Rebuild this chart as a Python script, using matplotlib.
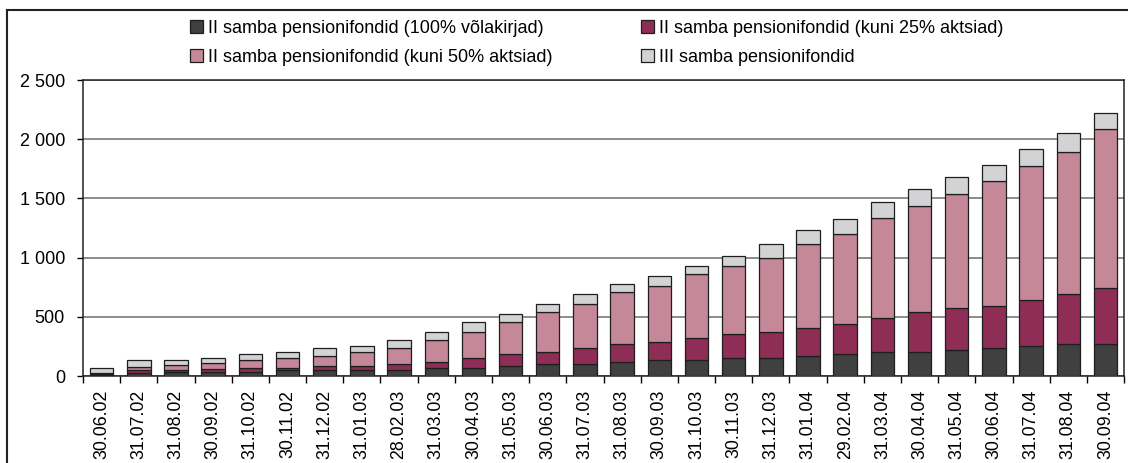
import matplotlib.pyplot as plt
from matplotlib.lines import Line2D
from matplotlib.ticker import FuncFormatter
import numpy as np

plt.rcParams['font.family'] = ['Liberation Sans', 'DejaVu Sans']

dates = ["30.06.02", "31.07.02", "31.08.02", "30.09.02", "31.10.02", "30.11.02",
         "31.12.02", "31.01.03", "28.02.03", "31.03.03", "30.04.03", "31.05.03",
         "30.06.03", "31.07.03", "31.08.03", "30.09.03", "31.10.03", "30.11.03",
         "31.12.03", "31.01.04", "29.02.04", "31.03.04", "30.04.04", "31.05.04",
         "30.06.04", "31.07.04", "31.08.04", "30.09.04"]

# million EEK
volakirjad = [8, 29, 31, 31, 31, 48, 48, 48, 48, 68, 68, 85, 102, 100, 116, 136,
              136, 153, 153, 167, 185, 201, 201, 220, 234, 251, 268, 268]
aktsiad25 = [9, 19, 16, 32, 34, 20, 37, 37, 54, 51, 85, 99, 99, 135, 152, 152,
             183, 200, 220, 237, 253, 288, 341, 353, 356, 393, 427, 478]
aktsiad50 = [11, 32, 49, 50, 68, 82, 82, 116, 132, 183, 217, 271, 336, 372, 441, 472,
             543, 576, 624, 712, 763, 848, 896, 967, 1054, 1133, 1201, 1336]
iii_sammas = [36, 51, 36, 38, 51, 51, 70, 50, 71, 68, 88, 68, 70, 88, 71, 87,
              70, 88, 122, 121, 122, 136, 138, 138, 136, 138, 155, 138]

labels = ["II samba pensionifondid (100% võlakirjad)",
          "II samba pensionifondid (kuni 25% aktsiad)",
          "II samba pensionifondid (kuni 50% aktsiad)",
          "III samba pensionifondid"]
colors = ["#404040", "#8e2d55", "#c48898", "#d3d3d5"]

fig = plt.figure(figsize=(11.28, 4.63), dpi=100)
ax = fig.add_axes([0.0736, 0.1879, 0.9229, 0.6393])

x = np.arange(len(dates))
series = [volakirjad, aktsiad25, aktsiad50, iii_sammas]
bottom = np.zeros(len(dates))
bars = []
for vals, col, lab in zip(series, colors, labels):
    b = ax.bar(x, vals, 0.63, bottom=bottom, color=col, edgecolor="#1e1e1e",
               linewidth=0.9, label=lab, zorder=3)
    bars.append(b)
    bottom += np.array(vals)

ax.set_xlim(-0.5, len(dates) - 0.5)
ax.set_ylim(0, 2500)
ax.set_yticks(range(0, 2501, 500))
ax.yaxis.set_major_formatter(FuncFormatter(lambda v, p: f"{int(v):,}".replace(",", " ")))
ax.yaxis.grid(True, color="#6e6e6e", linewidth=1.1, zorder=0)
ax.tick_params(axis="y", length=4, width=1, pad=9, labelsize=13)

ax.set_xticks(x)
ax.set_xticklabels(dates, rotation=90, fontsize=12.8)
ax.tick_params(axis="x", length=0, pad=10)
ax.set_xticks(np.arange(-0.5, len(dates)), minor=True)
ax.tick_params(axis="x", which="minor", length=5, width=1)

for s in ax.spines.values():
    s.set_color("#222222")
    s.set_linewidth(1.1)

handles = [bars[0], bars[2], bars[1], bars[3]]
fig.legend(handles, [labels[0], labels[2], labels[1], labels[3]], ncol=2,
           loc="upper left", bbox_to_anchor=(0.154, 0.992), frameon=False,
           fontsize=13, handlelength=0.7, handleheight=0.7,
           handletextpad=0.3, columnspacing=4.9, labelspacing=0.65)

# frame around the picture
fig.add_artist(Line2D([0.0062, 1.0], [0.978, 0.978], transform=fig.transFigure,
                      color="#222222", linewidth=1.5))
fig.add_artist(Line2D([0.0062, 0.0062], [0.0, 0.978], transform=fig.transFigure,
                      color="#222222", linewidth=1.5))

fig.savefig("out.png", dpi=100)
